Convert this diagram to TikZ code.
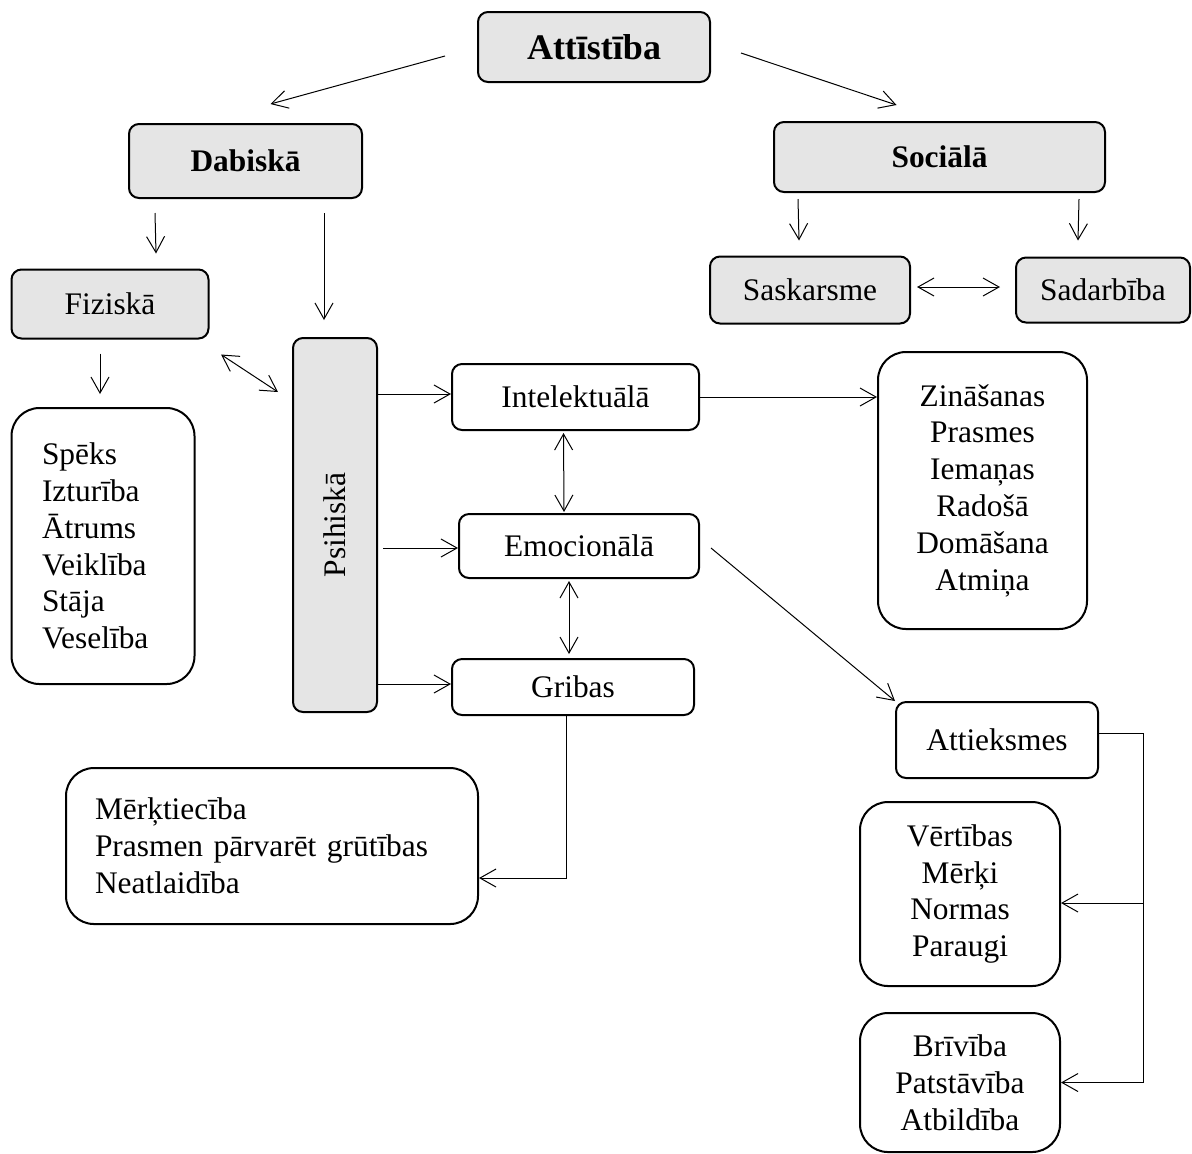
\documentclass[tikz,border=0pt]{standalone}
\usepackage{fontspec}
\usepackage{graphicx}
\setmainfont{Liberation Serif}
\usetikzlibrary{arrows.meta,positioning,calc}

\begin{document}
\begin{tikzpicture}[x=0.5pt, y=-0.5pt,
				      every node/.style={align=center, font=\fontsize{15.7}{18.4}\selectfont},
				      grayBox/.style={
						      draw, line width=1pt, fill=black!10,
						      rounded corners=5pt, inner sep=0pt
					      },
				      whiteBox/.style={
						      draw, line width=1pt,
						      rounded corners=5pt, inner sep=0pt
					      },
				      listBox/.style={
						      draw, line width=1pt,
						      rounded corners=14pt, inner sep=0pt
					      },
				      arrowLine/.style={line width=0.5pt, -{Straight Barb[length=8pt,width=9pt]}},
				      bothLine/.style={line width=0.5pt, {Straight Barb[length=8pt,width=9pt]}-{Straight Barb[length=8pt,width=9pt]}}
			      ]
			      \useasboundingbox (0,0) rectangle (1192,1153);

			      % Top level
			      \node[grayBox, minimum width=116pt, minimum height=35pt, font=\fontsize{18}{21}\selectfont\bfseries] (att) at (594,47) {Attīstība};
			      \node[grayBox, minimum width=116.5pt, minimum height=37pt, font=\fontsize{15.7}{18.4}\selectfont\bfseries] (dab) at (245.5,161) {Dabiskā};
			      \node[grayBox, minimum width=165.5pt, minimum height=35pt, font=\fontsize{15.7}{18.4}\selectfont\bfseries] (soc) at (939.5,157) {Sociālā};

			      % Second level
			      \node[grayBox, minimum width=98.5pt, minimum height=34.5pt] (fiz) at (110,304) {Fiziskā};
			      \node[grayBox, minimum width=42pt, minimum height=187pt] (psi) at (335,525) {\rotatebox{90}{Psihiskā}};
			      \node[grayBox, minimum width=100pt, minimum height=33.5pt] (sask) at (810,290) {Saskarsme};
			      \node[grayBox, minimum width=87pt, minimum height=32.5pt] (sad) at (1103,290) {Sadarbība};

			      % Psihiskā parts
			      \node[whiteBox, minimum width=123.5pt, minimum height=33pt] (intel) at (575.5,397) {Intelektuālā};
			      \node[whiteBox, minimum width=120pt, minimum height=32pt] (emo) at (579,546) {Emocionālā};
			      \node[whiteBox, minimum width=121pt, minimum height=28pt] (grib) at (573,687) {Gribas};
			      \node[whiteBox, minimum width=101pt, minimum height=38pt] (attiek) at (997,740) {Attieksmes};

			      % Lists
			      \node[listBox, align=left, text width=61pt, inner xsep=15.25pt, minimum height=138pt] (spek) at (103,546)
			      {Spēks\\Izturība\\Ātrums\\Veiklība\\Stāja\\Veselība};
			      \node[listBox, minimum width=104.5pt, minimum height=138.5pt] (zin) at (982.5,490.5)
			      {Zināšanas\\Prasmes\\Iemaņas\\Radošā\\Domāšana\\Atmiņa};
			      \node[listBox, align=left, text width=177pt, inner xsep=14.5pt, minimum height=78pt] (merk) at (272,846)
			      {Mērķtiecība\\Prasmen pārvarēt grūtības\\Neatlaidība};
			      \node[listBox, minimum width=100pt, minimum height=92pt] (vert) at (960,894)
			      {Vērtības\\Mērķi\\Normas\\Paraugi};
			      \node[listBox, minimum width=100pt, minimum height=69.5pt] (briv) at (960,1082.5)
			      {Brīvība\\Patstāvība\\Atbildība};

			      % Arrows from the top
			      \draw[arrowLine] ($(att.west)+(-32,9)$) -- ($(dab.north)+(25,-19)$);
			      \draw[arrowLine] ($(att.east)+(30,6)$) -- ($(soc.north)+(-43,-16)$);
			      \draw[arrowLine] ($(dab.south west)+(27,14)$) -- ($(fiz.north)+(46,-15)$);
			      \draw[arrowLine] ($(dab.south)+(78.5,14)$) -- ($(psi.north)+(-11,-17)$);
			      \draw[arrowLine] ($(soc.south west)+(25,6)$) -- ($(sask.north)+(-11,-15)$);
			      \draw[arrowLine] ($(soc.south east)+(-27,6)$) -- ($(sad.north)+(-25,-16)$);
			      \draw[bothLine] ($(sask.east)+(6,-3)$) -- ($(sad.west)+(-15,-3)$);

			      % Fiziskā
			      \draw[arrowLine] ($(fiz.south)+(-10,14)$) -- ($(spek.north)+(-3,-13)$);
			      \draw[bothLine] ($(fiz.south east)+(11.5,15)$) -- ($(psi.north west)+(-14,55)$);

			      % Psihiskā
			      \draw[arrowLine] ($(psi.east |- intel.west)+(0,-3)$) -- ($(intel.west)+(0,-3)$);
			      \draw[arrowLine] ($(psi.east |- emo.west)+(5,2)$) -- ($(emo.west)+(0,2)$);
			      \draw[arrowLine] ($(psi.east |- grib.west)+(0,-3)$) -- ($(grib.west)+(0,-3)$);
			      \draw[bothLine] ($(intel.south)+(-12,2)$) -- ($(emo.north)+(-15,-1)$);
			      \draw[bothLine] ($(emo.south)+(-10,2)$) -- ($(grib.north)+(-4,-4)$);
			      \draw[arrowLine] (intel.east) -- (intel.east -| zin.west);
			      \draw[arrowLine] ($(emo.east)+(11,2)$) -- (attiek.north west);
			      \draw[arrowLine] ($(grib.south)+(-7,0)$) |- ($(merk.east)+(0,32)$);

			      % Attieksmes
			      \draw[arrowLine] ($(attiek.east)+(0,-7)$) -- ++(44,0) |- (briv.east);
			      \draw[arrowLine] ($(vert.east)+(82,9)$) -- ($(vert.east)+(0,9)$);
		      \end{tikzpicture}
\end{document}
